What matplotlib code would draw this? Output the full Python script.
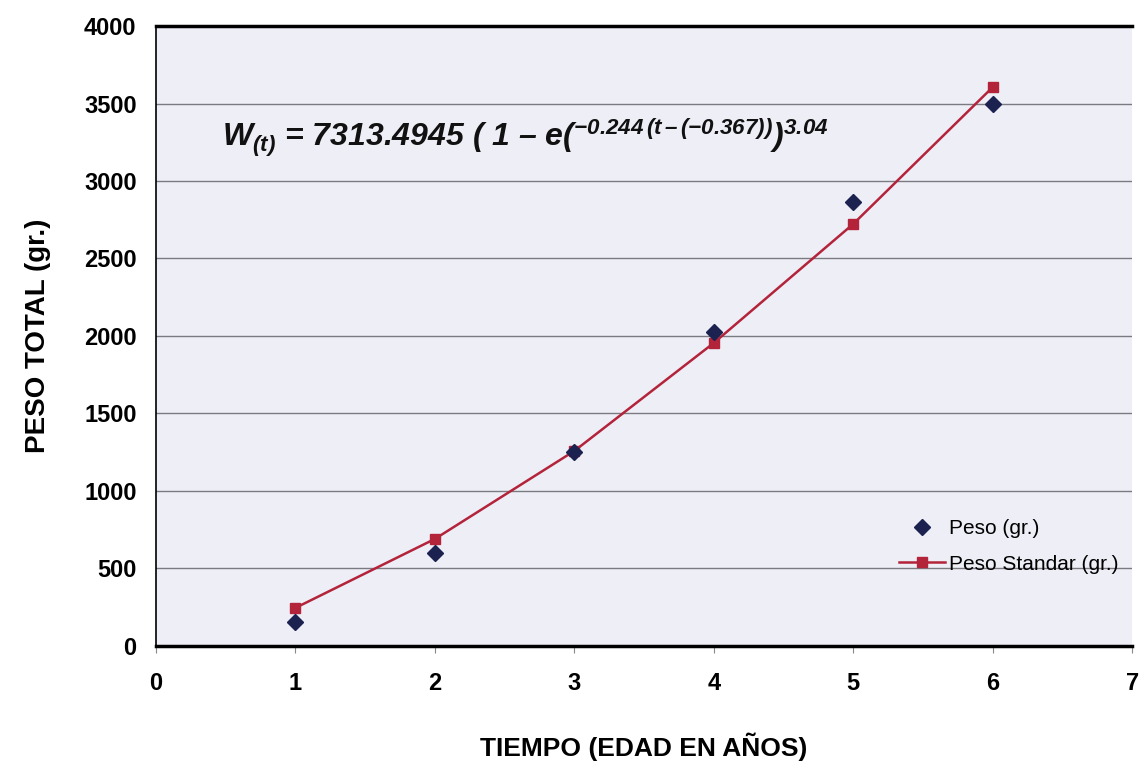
import matplotlib.pyplot as plt

plt.rcParams['font.family'] = ['Liberation Sans', 'DejaVu Sans']
plt.rcParams['mathtext.fontset'] = 'custom'
plt.rcParams['mathtext.rm'] = 'Liberation Sans:bold:italic'
plt.rcParams['mathtext.it'] = 'Liberation Sans:bold:italic'
plt.rcParams['mathtext.bf'] = 'Liberation Sans:bold:italic'

# data
edad = [1, 2, 3, 4, 5, 6]
peso = [155, 600, 1250, 2025, 2865, 3497]
peso_standar = [245, 690, 1258, 1955, 2723, 3606]
yticks = [0, 500, 1000, 1500, 2000, 2500, 3000, 3500, 4000]
xticks = [0, 1, 2, 3, 4, 5, 6, 7]

fig = plt.figure(figsize=(11.39, 7.67), dpi=100)
ax = fig.add_axes([0.137, 0.158, 0.857, 0.808])
ax.set_facecolor('#eeeef7')

ax.plot(edad, peso_standar, color='#b3243b', linewidth=1.8, marker='s', markersize=7,
        markerfacecolor='#b3243b', markeredgecolor='#b3243b', label='Peso Standar (gr.)', zorder=3)
ax.plot(edad, peso, linestyle='none', marker='D', markersize=8, color='#1b2250',
        label='Peso (gr.)', zorder=4)

ax.set_xlim(0, 7)
ax.set_ylim(0, 4000)
ax.set_xticks(xticks)
ax.set_yticks(yticks)
ax.grid(axis='y', color='#7a7a80', linewidth=1.0)
ax.set_axisbelow(True)

for s in ['top', 'bottom']:
    ax.spines[s].set_linewidth(2.5)
ax.spines['left'].set_linewidth(1.2)
ax.spines['right'].set_visible(False)

ax.tick_params(axis='x', length=5, color='#888888', pad=14, labelsize=17)
ax.tick_params(axis='y', length=0, pad=14, labelsize=17)
for label in ax.get_xticklabels() + ax.get_yticklabels():
    label.set_fontweight('bold')

ax.set_xlabel('TIEMPO (EDAD EN AÑOS)', fontsize=19, fontweight='bold', labelpad=27)
ax.set_ylabel('PESO TOTAL (gr.)', fontsize=20, fontweight='bold', labelpad=24)

ax.text(0.47, 3220, r'$W_{(t)}$ = 7313.4945 ( 1 – e$(^{-0.244\,(t\,–\,(-0.367))})^{3.04}$',
        fontsize=23, color='#111111', fontweight='bold', style='italic')

handles, labels = ax.get_legend_handles_labels()
ax.legend(handles[::-1], labels[::-1], loc='upper right', bbox_to_anchor=(1.005, 0.235),
          frameon=False, fontsize=15, handlelength=2.2, handletextpad=0.2, labelspacing=0.8)

plt.savefig('out.png', dpi=100)
